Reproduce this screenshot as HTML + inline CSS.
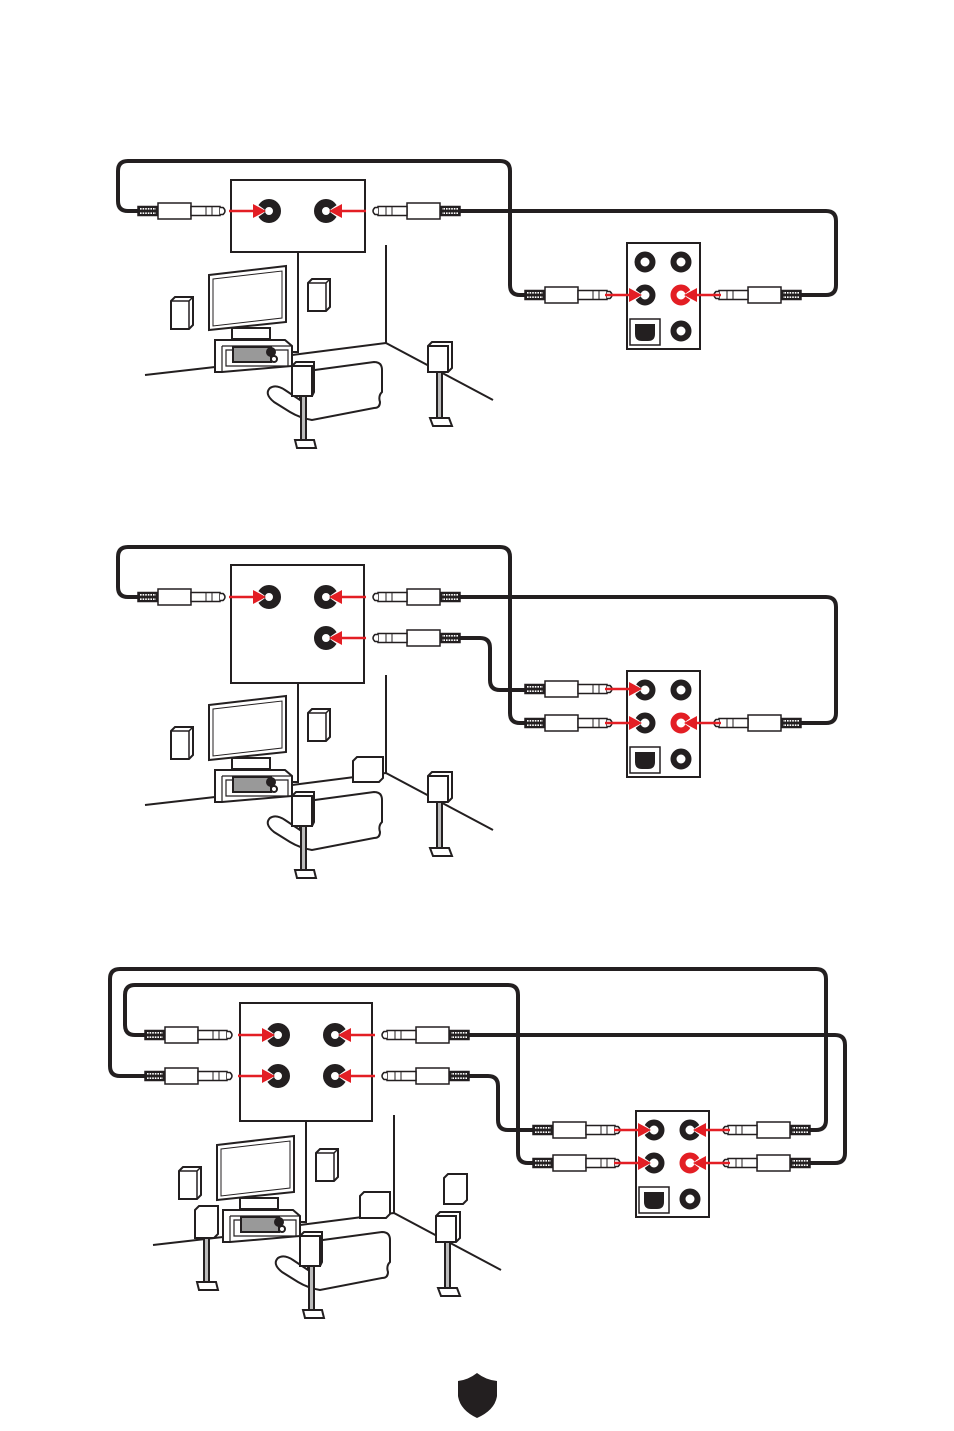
<!DOCTYPE html>
<html><head><meta charset="utf-8"><style>
html,body{margin:0;padding:0;background:#fff}
svg{display:block}
</style></head><body>
<svg width="954" height="1431" viewBox="0 0 954 1431" xmlns="http://www.w3.org/2000/svg">
<defs>
<g id="plugR" stroke="#231f20" stroke-width="1.5" fill="#fff">
  <rect x="-88" y="-4.5" width="20" height="9" fill="#231f20"/>
  <path d="M-86,-2.2H-70M-86,2.2H-70" stroke="#fff" stroke-width="1.6" stroke-dasharray="1.6 1"/>
  <rect x="-68" y="-8" width="33" height="16"/>
  <rect x="-35" y="-4.5" width="29" height="9"/>
  <path d="M-20,-4.5V4.5M-14,-4.5V4.5" stroke-width="1"/>
  <path d="M-6,-3.5H-3Q1,0 -3,3.5H-6" />
</g>
<g id="plugL"><use href="#plugR" transform="scale(-1,1)"/></g>
<g id="arrowR"><polygon points="-4.5,-1.5 -15,-9 -15,9 -4.5,1.5" fill="#fff"/><path d="M-40,0H-14" stroke="#e31e24" stroke-width="2.5"/><polygon points="-16,-7 -3,0 -16,7" fill="#e31e24"/></g>
<g id="arrowL"><use href="#arrowR" transform="scale(-1,1)"/></g>
<g id="jack"><circle r="8" fill="none" stroke="#231f20" stroke-width="8"/></g>
<g id="panel">
  <rect x="0" y="0" width="73" height="106" fill="#fff" stroke="#231f20" stroke-width="2"/>
  <circle cx="18" cy="19" r="7.5" fill="none" stroke="#231f20" stroke-width="6"/>
  <circle cx="54" cy="19" r="7.5" fill="none" stroke="#231f20" stroke-width="6"/>
  <circle cx="18" cy="52" r="7.5" fill="none" stroke="#231f20" stroke-width="6"/>
  <circle cx="54" cy="52" r="7.5" fill="none" stroke="#e31e24" stroke-width="6"/>
  <rect x="3" y="76" width="30" height="26" fill="#fff" stroke="#231f20" stroke-width="1.5"/>
  <path d="M8,81H28V91Q28,98 21,98H15Q8,98 8,91Z" fill="#231f20"/>
  <circle cx="54" cy="88" r="7.5" fill="none" stroke="#231f20" stroke-width="6"/>
</g>
<g id="spk"><path d="M0,4L4,0H22V28L18,32H0Z" fill="#fff" stroke="#231f20" stroke-width="2"/><path d="M0,4H18V32M18,4L22,0" fill="none" stroke="#231f20" stroke-width="1.5"/></g>
<g id="scene" stroke="#231f20" stroke-width="2" fill="#fff">
  <path d="M298,252V352H272" fill="none"/>
  <path d="M386,245V343L493,400M386,343L292,355M215,367L145,375" fill="none"/>
  <polygon points="209,275 286,266 286,322 209,330"/>
  <polygon points="213,279 282,271 282,318 213,326" stroke-width="1"/>
  <rect x="232" y="328" width="38" height="11"/>
  <path d="M215,340H285L292,346V366L222,372H215Z"/>
  <path d="M222,346H292M222,346V372M226,350H288V366H226Z" fill="none" stroke-width="1.2"/>
  <rect x="233" y="347" width="38" height="15" fill="#999"/>
  <circle cx="271" cy="352" r="4" fill="#231f20"/>
  <circle cx="274" cy="359" r="3"/>
  <use href="#spk" x="171" y="297"/>
  <use href="#spk" x="308" y="279"/>
  <path d="M300,372L374,362Q382,362 382,370V392Q378,396 380,402Q380,408 374,408L312,420Q300,418 290,412L274,402Q264,394 270,388Q276,384 285,390L300,400Z"/>
  <path d="M300,400L314,372" fill="none"/>
  <path d="M292,366H312V396H292Z"/><path d="M292,366L296,362H314V392L312,396" fill="none"/>
  <rect x="301" y="396" width="5" height="44" fill="#bbb"/>
  <path d="M295,440H314L316,448H297Z"/>
  <path d="M428,346L432,342H452V368L448,372H428Z"/><path d="M428,346H448V372" fill="none"/>
  <rect x="437" y="372" width="5" height="46" fill="#bbb"/>
  <path d="M430,418H449L452,426H433Z"/>
</g>
</defs>

<!-- ============ Diagram 1 ============ -->
<g fill="none" stroke="#231f20" stroke-width="4">
  <path d="M138,211H128Q118,211 118,201V171Q118,161 128,161H500Q510,161 510,171V285Q510,295 520,295H527"/>
  <path d="M460,211H826Q836,211 836,221V285Q836,295 826,295H800"/>
</g>
<use href="#scene"/>
<rect x="231" y="180" width="134" height="72" fill="#fff" stroke="#231f20" stroke-width="2"/>
<use href="#jack" x="269" y="211"/><use href="#jack" x="326" y="211"/>
<use href="#arrowR" x="269" y="211"/><use href="#arrowL" x="326" y="211"/>
<use href="#plugR" x="226" y="211"/><use href="#plugL" x="372" y="211"/>
<use href="#panel" x="627" y="243"/>
<use href="#plugR" x="613" y="295"/><use href="#arrowR" x="645" y="295"/>
<use href="#plugL" x="713" y="295"/><use href="#arrowL" x="681" y="295"/>

<!-- ============ Diagram 2 ============ -->
<g fill="none" stroke="#231f20" stroke-width="4">
  <path d="M138,597H128Q118,597 118,587V557Q118,547 128,547H500Q510,547 510,557V713Q510,723 520,723H527"/>
  <path d="M460,597H826Q836,597 836,607V713Q836,723 826,723H800"/>
  <path d="M460,638H480Q490,638 490,648V680Q490,690 500,690H527"/>
</g>
<use href="#scene" y="430"/>
<path d="M353,761L357,757H383V778L379,782H353Z" fill="#fff" stroke="#231f20" stroke-width="2"/>
<rect x="231" y="565" width="133" height="118" fill="#fff" stroke="#231f20" stroke-width="2"/>
<use href="#jack" x="269" y="597"/><use href="#jack" x="326" y="597"/><use href="#jack" x="326" y="638"/>
<use href="#arrowR" x="269" y="597"/><use href="#arrowL" x="326" y="597"/><use href="#arrowL" x="326" y="638"/>
<use href="#plugR" x="226" y="597"/><use href="#plugL" x="372" y="597"/><use href="#plugL" x="372" y="638"/>
<use href="#panel" x="627" y="671"/>
<use href="#plugR" x="613" y="689"/><use href="#arrowR" x="645" y="689"/>
<use href="#plugR" x="613" y="723"/><use href="#arrowR" x="645" y="723"/>
<use href="#plugL" x="713" y="723"/><use href="#arrowL" x="681" y="723"/>

<!-- ============ Diagram 3 ============ -->
<g fill="none" stroke="#231f20" stroke-width="4">
  <path d="M145,1076H120Q110,1076 110,1066V979Q110,969 120,969H816Q826,969 826,979V1120Q826,1130 816,1130H808"/>
  <path d="M145,1035H135Q125,1035 125,1025V995Q125,985 135,985H508Q518,985 518,995V1153Q518,1163 528,1163H535"/>
  <path d="M467,1035H835Q845,1035 845,1045V1153Q845,1163 835,1163H808"/>
  <path d="M467,1076H488Q498,1076 498,1086V1120Q498,1130 508,1130H535"/>
</g>
<use href="#scene" x="8" y="870"/>
<g stroke="#231f20" stroke-width="2" fill="#fff">
  <path d="M360,1196L364,1192H390V1214L386,1218H360Z"/>
  <path d="M195,1210L199,1206H218V1234L214,1238H195Z"/>
  <rect x="204" y="1238" width="5" height="44" fill="#bbb"/>
  <path d="M197,1282H216L218,1290H199Z"/>
  <path d="M444,1178L448,1174H467V1200L463,1204H444Z"/>
</g>
<rect x="240" y="1003" width="132" height="118" fill="#fff" stroke="#231f20" stroke-width="2"/>
<use href="#jack" x="278" y="1035"/><use href="#jack" x="335" y="1035"/>
<use href="#jack" x="278" y="1076"/><use href="#jack" x="335" y="1076"/>
<use href="#arrowR" x="278" y="1035"/><use href="#arrowL" x="335" y="1035"/>
<use href="#arrowR" x="278" y="1076"/><use href="#arrowL" x="335" y="1076"/>
<use href="#plugR" x="233" y="1035"/><use href="#plugR" x="233" y="1076"/>
<use href="#plugL" x="381" y="1035"/><use href="#plugL" x="381" y="1076"/>
<use href="#panel" x="636" y="1111"/>
<use href="#plugR" x="621" y="1130"/><use href="#arrowR" x="654" y="1130"/>
<use href="#plugR" x="621" y="1163"/><use href="#arrowR" x="654" y="1163"/>
<use href="#plugL" x="722" y="1130"/><use href="#arrowL" x="690" y="1130"/>
<use href="#plugL" x="722" y="1163"/><use href="#arrowL" x="690" y="1163"/>

<!-- shield -->
<path d="M458,1381Q468,1380 477,1373Q486,1380 497,1381V1396Q495,1410 477,1418Q460,1410 458,1396Z" fill="#231f20"/>
</svg>
</body></html>
